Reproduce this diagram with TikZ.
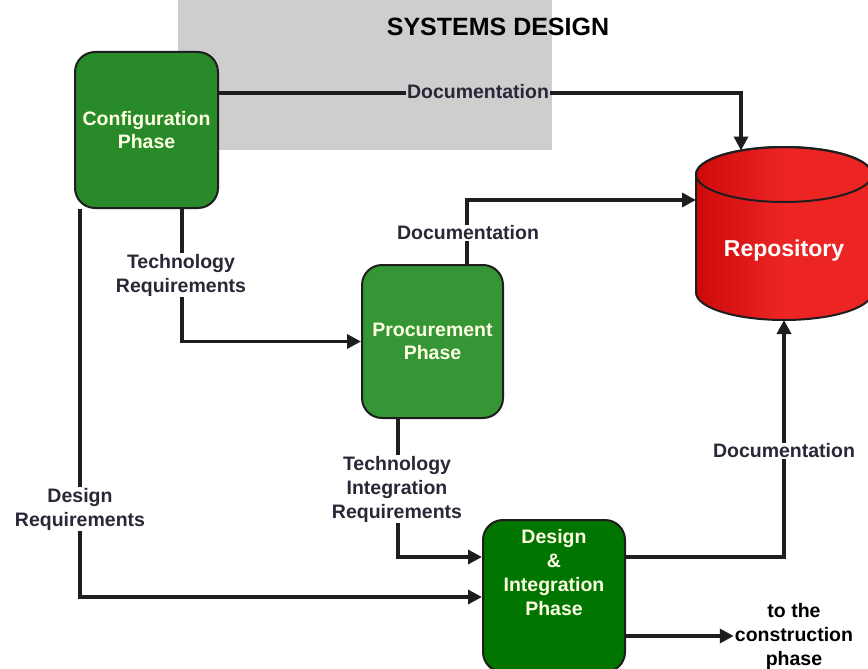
\documentclass[tikz,border=0pt]{standalone}
\usepackage{fontspec}
\setmainfont{Liberation Sans}
\usetikzlibrary{arrows.meta,calc}
\definecolor{lineC}{RGB}{30,30,30}
\definecolor{labelC}{RGB}{40,40,55}
\definecolor{confG}{RGB}{40,138,40}
\definecolor{procG}{RGB}{52,150,52}
\definecolor{desG}{RGB}{0,118,0}
\definecolor{repoR}{RGB}{236,36,36}
\definecolor{repoDark}{RGB}{205,10,10}
\definecolor{boxText}{RGB}{255,255,228}
\definecolor{wmGray}{RGB}{206,206,206}
\begin{document}
\begin{tikzpicture}[x=1pt,y=1pt,
 phase/.style={draw=lineC, line width=2pt, rounded corners=20pt, align=center,
   text=boxText, font=\bfseries\fontsize{19.5}{23.5}\selectfont},
 phasetext/.style={text=boxText, font=\bfseries\fontsize{19.5}{23.7}\selectfont, align=center},
 flow/.style={draw=lineC, line width=3.4pt, -{Triangle[length=14pt,width=14pt]}},
 lbl/.style={text=labelC, font=\bfseries\fontsize{19.5}{24}\selectfont, align=center, fill=white, inner sep=1pt},
]
\useasboundingbox (0,0) rectangle (868,-669);
\fill[white] (0,0) rectangle (868,-669);
\fill[wmGray] (178,0) rectangle (552,-150);

% title
\node[font=\bfseries\fontsize{25}{28}\selectfont, text=black] (title) at (498,-27) {SYSTEMS DESIGN};

% phases
\node[phase, fill=confG, minimum width=143pt, minimum height=156pt] (conf) at (146.5,-130) {Configuration\\Phase};
\node[phase, fill=procG, minimum width=141pt, minimum height=153pt] (proc) at (432.5,-341.5) {Procurement\\Phase};
\node[phase, fill=desG, minimum width=142pt, minimum height=152pt] (des) at (554,-596) {};
\node[phasetext] (dest) at (554,-572.5) {Design\\\&\\Integration\\Phase};

% repository cylinder
\path[draw=lineC, line width=2pt, left color=repoDark, right color=repoR, middle color=repoR] (696,-174.5) -- (696,-292.5)
  arc[start angle=180, end angle=360, x radius=88, y radius=27.5] -- (872,-174.5)
  arc[start angle=0, end angle=180, x radius=88, y radius=27.5] -- cycle;
\draw[lineC, line width=2pt] (784,-174.5) ellipse[x radius=88, y radius=27.5];
\node[text=white, font=\bfseries\fontsize{23}{26}\selectfont] (repo) at (784,-251) {Repository};
\coordinate (repoTop) at (741,-150.5);
\coordinate (repoLeft) at (696,-200);
\coordinate (repoBot) at (784,-320);

% end text
\node[text=black, font=\bfseries\fontsize{19.5}{24}\selectfont, align=center, inner sep=1pt] (constr) at (794,-636) {to the\\construction\\phase};

% connectors
\draw[flow] ([yshift=37pt]conf.east) -| (repoTop);
\draw[flow] ([xshift=34.5pt]proc.north) |- (repoLeft);
\draw[flow] ([xshift=35.5pt]conf.south) |- (proc.west);
\draw[flow] ([xshift=-66.5pt]conf.south) |- ([yshift=-1pt]des.west);
\draw[flow] ([xshift=-34.5pt]proc.south) |- ([yshift=39pt]des.west);
\draw[flow] ([yshift=39pt]des.east) -| (repoBot);
\draw[flow] ([yshift=-40pt]des.east) -- (constr.west);

% labels
\node[lbl, fill=wmGray] (l1) at (478,-92) {Documentation};
\node[lbl] (l2) at (468,-233) {Documentation};
\node[lbl] (l3) at (181,-275) {Technology\\Requirements};
\node[lbl] (l4) at (80,-509) {Design\\Requirements};
\node[lbl] (l5) at (397,-489) {Technology\\Integration\\Requirements};
\node[lbl] (l6) at (784,-451) {Documentation};
\end{tikzpicture}
\end{document}
